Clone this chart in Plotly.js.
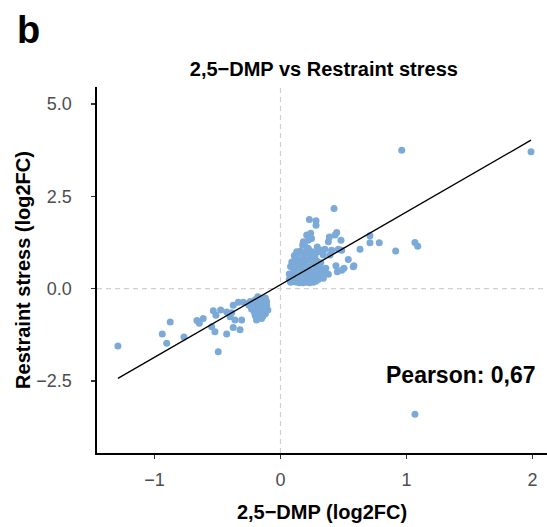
<!DOCTYPE html>
<html>
<head>
<meta charset="utf-8">
<script src="https://cdn.plot.ly/plotly-3.0.1.min.js"></script>
<style>html,body{margin:0;padding:0;background:#fff;}#chart{width:547px;height:527px;}</style>
</head>
<body>
<div id="chart"></div>
<script>
// 2,5-DMP log2FC (x) and Restraint stress log2FC (y)
const dmpX = [
  -1.29, -0.875, -0.938, -0.903, -0.766, -0.663, -0.644, -0.613, -0.533, -0.475,
  -0.512, -0.546, -0.520, -0.427, -0.494, -0.375, -0.321, -0.308, -0.361, -0.400,
  -0.387, -0.427, -0.375, -0.335, -0.295, -0.256, -0.190, -0.150, -0.200, -0.137,
  -0.24, -0.22, -0.20, -0.18, -0.16, -0.14, -0.12, -0.11, -0.13, -0.15,
  -0.17, -0.19, -0.21, -0.23, -0.12, -0.14, -0.16, -0.10, -0.11, -0.18,
  -0.20, -0.25, -0.13, -0.15, -0.17,
  0.425, 0.229, 0.282, 0.282, 0.208, 0.240, 0.247, 0.181, 0.221, 0.176,
  0.221, 0.446, 0.433, 0.388, 0.380, 0.480, 0.353, 0.292, 0.300, 0.274,
  0.327, 0.406, 0.393, 0.340, 0.486, 0.486, 0.538, 0.504, 0.578, 0.451,
  0.380, 0.631, 0.129, 0.115, 0.141, 0.710, 0.710, 0.784, 0.914, 1.067,
  1.089, 0.583, 0.440, 0.459, 0.962, 1.988, 1.067,
  0.08, 0.10, 0.12, 0.09, 0.11, 0.13, 0.15, 0.16, 0.18, 0.14,
  0.12, 0.10, 0.09, 0.13, 0.15, 0.17, 0.19, 0.20, 0.21, 0.22,
  0.23, 0.24, 0.25, 0.26, 0.27, 0.28, 0.29, 0.30, 0.31, 0.32,
  0.33, 0.34, 0.18, 0.20, 0.16, 0.22, 0.24, 0.17, 0.19, 0.11,
  0.14, 0.07, 0.08, 0.07, 0.26, 0.28, 0.30, 0.23, 0.15, 0.35,
  0.36, 0.27, 0.29, 0.32, 0.21, 0.19, 0.25
];
const restraintY = [
  -1.55, -0.90, -1.23, -1.48, -1.31, -0.86, -0.94, -0.81, -0.60, -0.58,
  -0.72, -1.03, -1.17, -1.23, -1.71, -1.05, -1.11, -0.85, -0.85, -0.76,
  -0.65, -0.63, -0.45, -0.37, -0.37, -0.40, -0.85, -0.81, -0.72, -0.40,
  -0.35, -0.45, -0.30, -0.40, -0.28, -0.35, -0.25, -0.45, -0.55, -0.50,
  -0.60, -0.52, -0.62, -0.55, -0.68, -0.75, -0.70, -0.58, -0.35, -0.22,
  -0.72, -0.45, -0.42, -0.62, -0.48,
  2.17, 1.875, 1.84, 1.72, 1.45, 1.50, 1.36, 1.27, 1.31, 1.18,
  1.09, 1.52, 1.45, 1.40, 1.27, 1.31, 1.07, 1.13, 1.00, 0.91,
  1.04, 1.04, 0.91, 0.91, 1.04, 0.50, 0.79, 0.55, 0.59, 0.46,
  0.39, 1.07, 1.00, 0.86, 0.73, 1.43, 1.24, 1.24, 1.02, 1.25,
  1.15, 0.62, 0.62, 1.07, 3.75, 3.71, -3.40,
  0.17, 0.25, 0.18, 0.35, 0.45, 0.30, 0.20, 0.38, 0.16, 0.55,
  0.65, 0.55, 0.72, 0.80, 0.68, 0.52, 0.28, 0.42, 0.18, 0.60,
  0.32, 0.48, 0.22, 0.70, 0.40, 0.55, 0.30, 0.45, 0.62, 0.35,
  0.50, 0.28, 0.85, 0.95, 1.02, 0.78, 0.88, 0.65, 0.72, 0.90,
  0.96, 0.40, 0.60, 0.25, 0.17, 0.20, 0.25, 0.16, 0.16, 0.40,
  0.55, 0.85, 0.75, 0.70, 1.10, 1.20, 1.00
];
const fitIntercept = 0.108;
const fitSlope = 1.968;
const pearsonLabel = "Pearson: 0,67";
const xTicks = [-1, 0, 1, 2];
const yTicks = [-2.5, 0, 2.5, 5];

const xMin = Math.min(...dmpX), xMax = Math.max(...dmpX);
const fitX = [xMin, xMax];
const fitY = fitX.map(v => fitIntercept + fitSlope * v);

const font = "Liberation Sans, Arial, Helvetica, sans-serif";

const traces = [
  {x: [0, 0], y: [-4.45, 5.46], mode: 'lines', line: {color: '#d0d0d0', width: 1.2, dash: '5px,4px'}, hoverinfo: 'skip', showlegend: false},
  {x: [-1.456, 2.115], y: [0, 0], mode: 'lines', line: {color: '#d0d0d0', width: 1.2, dash: '5px,4px'}, hoverinfo: 'skip', showlegend: false},
  {x: dmpX, y: restraintY, mode: 'markers', type: 'scatter', marker: {color: '#7BAAD9', size: 7}, showlegend: false},
  {x: fitX, y: fitY, mode: 'lines', line: {color: '#000000', width: 1.4}, showlegend: false}
];

const layout = {
  width: 547, height: 527,
  margin: {l: 97, r: 0, t: 87, b: 74},
  paper_bgcolor: '#ffffff', plot_bgcolor: '#ffffff',
  font: {family: font},
  showlegend: false,
  title: {text: '<b>2,5−DMP vs Restraint stress</b>', font: {size: 20, color: '#000', family: font}, x: 0.592, xanchor: 'center', y: 0.869, yanchor: 'middle'},
  xaxis: {
    range: [-1.456, 2.115], tickvals: xTicks, ticktext: xTicks.map(v => v < 0 ? '−' + Math.abs(v) : String(v)),
    showgrid: false, zeroline: false, showline: true, linecolor: '#000', linewidth: 1.6,
    ticks: 'outside', ticklen: 4, tickwidth: 1.2, tickcolor: '#333',
    ticklabelstandoff: 6,
    tickfont: {size: 18, color: '#4d4d4d', family: font},
    title: {text: '<b>2,5−DMP (log2FC)</b>', font: {size: 20, color: '#000', family: font}, standoff: 16}
  },
  yaxis: {
    range: [-4.45, 5.46], tickvals: yTicks, ticktext: yTicks.map(v => (v < 0 ? '−' : '') + Math.abs(v).toFixed(1)),
    showgrid: false, zeroline: false, showline: true, linecolor: '#000', linewidth: 1.6,
    ticks: 'outside', ticklen: 4, tickwidth: 1.2, tickcolor: '#333',
    ticklabelstandoff: 16,
    tickfont: {size: 18, color: '#4d4d4d', family: font},
    title: {text: '<b>Restraint stress (log2FC)</b>', font: {size: 20, color: '#000', family: font}, standoff: 0}
  },
  annotations: [
    {x: 1.43, y: -2.34, xref: 'x', yref: 'y', text: '<b>' + pearsonLabel + '</b>', showarrow: false, font: {size: 23, color: '#000', family: font}},
    {x: (28 - 97) / 450, y: 1 + (87 - 30) / 366, xref: 'paper', yref: 'paper', xanchor: 'center', yanchor: 'middle', text: '<b>b</b>', showarrow: false, font: {size: 38, color: '#000', family: font}}
  ]
};

Plotly.newPlot('chart', traces, layout, {displayModeBar: false, staticPlot: true});
</script>
</body>
</html>
